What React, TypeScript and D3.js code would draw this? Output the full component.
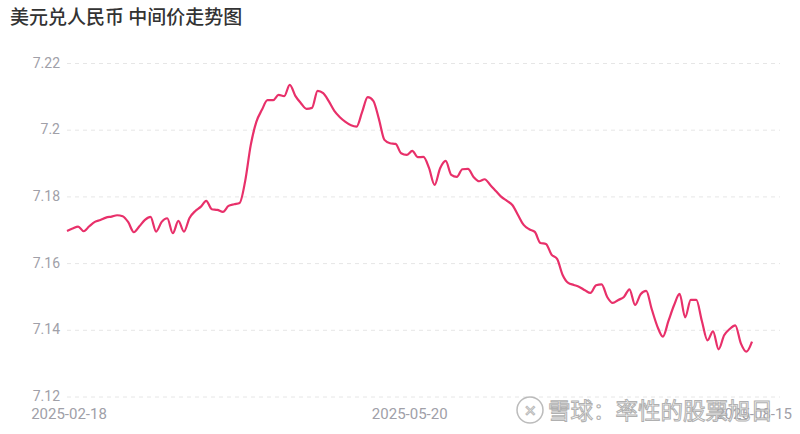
import React from "react";
import * as d3 from "d3";

const title = "美元兑人民币 中间价走势图";
const yTicks = [7.12, 7.14, 7.16, 7.18, 7.2, 7.22];
const xTickLabels = ["2025-02-18", "2025-05-20", "2025-08-15"];
const xTickIndex = [0, 61, 123];
const rates = [
  7.1698, 7.1705, 7.1711, 7.1697, 7.1712, 7.1725, 7.1731, 7.1738, 7.1741, 7.1745,
  7.1742, 7.1724, 7.1694, 7.1712, 7.1731, 7.174, 7.1696, 7.1725, 7.1736, 7.1691,
  7.1728, 7.1696, 7.1737, 7.1757, 7.177, 7.1788, 7.1763, 7.1761, 7.1755, 7.1773,
  7.1778, 7.1782, 7.1848, 7.1956, 7.2025, 7.2061, 7.209, 7.209, 7.2106, 7.2102,
  7.2136, 7.2103, 7.2081, 7.2064, 7.2067, 7.2118, 7.2111, 7.2087, 7.2058, 7.2039,
  7.2025, 7.2015, 7.2011, 7.2055, 7.2099, 7.2088, 7.2034, 7.1971, 7.1961, 7.1959,
  7.1931, 7.1926, 7.1938, 7.1919, 7.192, 7.1887, 7.1836, 7.1886, 7.1908, 7.1866,
  7.186, 7.1883, 7.1884, 7.186, 7.1847, 7.1853, 7.1836, 7.1818, 7.18, 7.1788,
  7.1775, 7.1745, 7.1716, 7.1703, 7.1695, 7.1662, 7.1659, 7.1627, 7.1614, 7.1566,
  7.1542, 7.1536, 7.153, 7.152, 7.1512, 7.1535, 7.1538, 7.15, 7.1482, 7.1491,
  7.15, 7.1523, 7.1476, 7.1508, 7.1518, 7.1463, 7.1412, 7.1381, 7.1428, 7.1475,
  7.1509, 7.1439, 7.1491, 7.1491, 7.1428, 7.137, 7.1397, 7.1343, 7.1385, 7.1404,
  7.1415, 7.1361, 7.1336, 7.1366,
];

const W = 800;
const H = 434;
const numFont = "Roboto, 'Noto Sans', sans-serif";
const cjkFont = "'Noto Sans CJK SC', 'Noto Sans', sans-serif";

export default function App() {
  const x = d3.scaleLinear().domain([0, rates.length - 1]).range([67, 752]);
  const y = d3.scaleLinear().domain([7.12, 7.22]).range([397, 63.5]);
  const line = d3
    .line<number>()
    .x((_, i) => x(i))
    .y((d) => y(d))
    .curve(d3.curveMonotoneX);

  return (
    <div style={{ position: "absolute", left: 0, top: 0 }}>
      <svg width={W} height={H} style={{ display: "block", background: "#fff" }}>
        <text x={10} y={24} fontFamily={cjkFont} fontSize={19} fill="#333" fontWeight={500}>
          {title}
        </text>
        {yTicks.map((t) => (
          <g key={t}>
            <line
              x1={67}
              x2={780}
              y1={y(t)}
              y2={y(t)}
              stroke="#e6e6e6"
              strokeWidth={1}
              strokeDasharray="4,4"
            />
            <text
              x={60}
              y={y(t) + 4}
              textAnchor="end"
              fontFamily={numFont}
              fontSize={14}
              fill="#a0a0a8"
            >
              {String(t)}
            </text>
          </g>
        ))}
        {xTickLabels.map((lab, k) => (
          <text
            key={lab}
            x={x(xTickIndex[k]) + (k === 1 ? 3 : 2)}
            y={418.5}
            textAnchor="middle"
            fontFamily={numFont}
            fontSize={15}
            fill="#a0a0a8"
          >
            {lab}
          </text>
        ))}
        <path d={line(rates) || ""} fill="none" stroke="#e8306a" strokeWidth={2.2} strokeLinejoin="round" />
        <g opacity={0.9}>
          <circle cx={530} cy={410} r={13} fill="#fff" fillOpacity={0.6} stroke="#b5b5b5" strokeWidth={1.5} />
          <text x={530} y={415.5} textAnchor="middle" fontFamily={numFont} fontSize={15} fill="none" stroke="#b5b5b5" strokeWidth={1}>
            ✕
          </text>
          <text
            x={548}
            y={419}
            fontFamily={cjkFont}
            fontSize={22.5}
            fill="#ffffff"
            fillOpacity={0.85}
            stroke="#a8a8a8"
            strokeWidth={1}
          >
            雪球：率性的股票旭日
          </text>
        </g>
      </svg>
    </div>
  );
}
